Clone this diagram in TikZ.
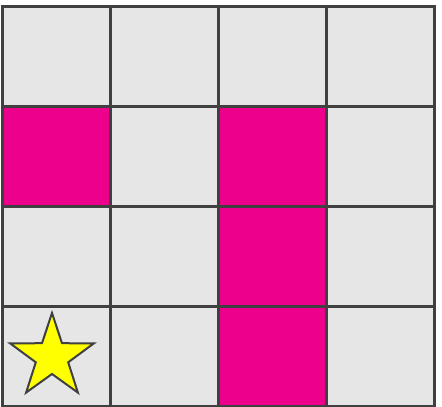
\documentclass[tikz,border=0pt]{standalone}
\definecolor{cellgray}{RGB}{230,230,230}
\definecolor{cellpink}{RGB}{236,0,140}
\definecolor{gridline}{RGB}{64,64,64}
\definecolor{staryellow}{RGB}{255,255,0}
\tikzset{
  cell/.style={fill=cellgray, draw=gridline, line width=3pt},
  pinkcell/.style={fill=cellpink, draw=gridline, line width=3pt},
  starshape/.style={fill=staryellow, draw=gridline, line width=2pt, line join=miter}
}
\begin{document}
\begin{tikzpicture}[x=1pt,y=-1pt]
\useasboundingbox (0,0) rectangle (442,407);
\foreach \c in {0,...,3}{
  \foreach \r in {0,...,3}{
    \draw[cell] ({2+108*\c},{6+100*\r}) rectangle ({110+108*\c},{106+100*\r});
  }
}
\draw[pinkcell] (2,106) rectangle (110,206);
\draw[pinkcell] (218,106) rectangle (326,206);
\draw[pinkcell] (218,206) rectangle (326,306);
\draw[pinkcell] (218,306) rectangle (326,406);
% star: centre (52,357), outer radius 44, inner radius 17
\draw[starshape]
  (52,313) -- (62,343.2) -- (93.8,343.4) -- (68.2,362.3)
  -- (77.9,392.6) -- (52,374) -- (26.1,392.6) -- (35.8,362.3)
  -- (10.2,343.4) -- (42,343.2) -- cycle;
\end{tikzpicture}
\end{document}
